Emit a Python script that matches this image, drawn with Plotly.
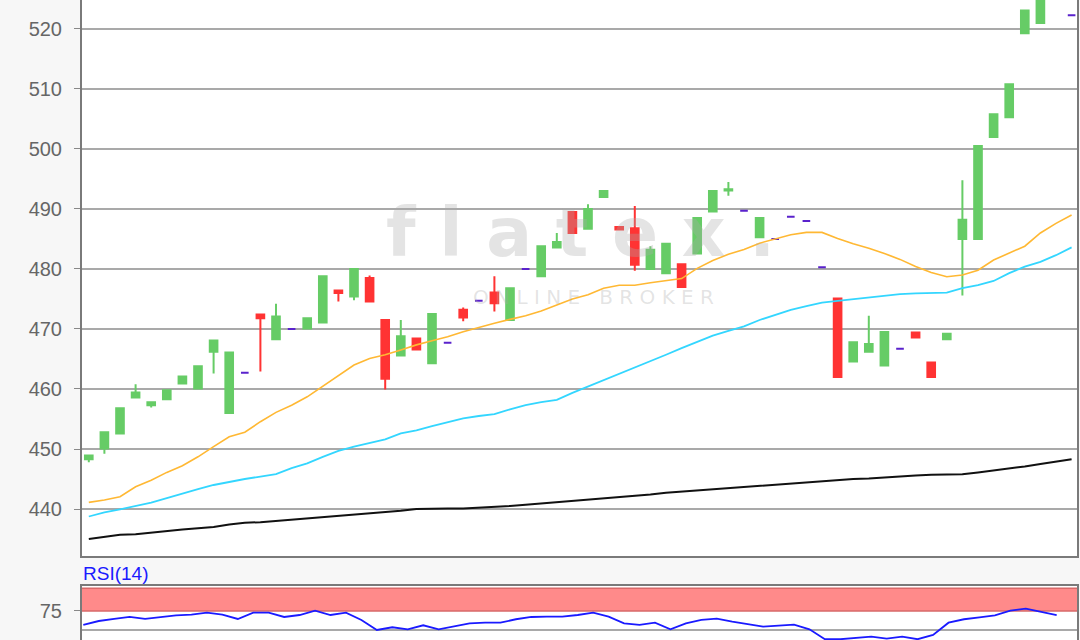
import plotly.graph_objects as go

# ---------------- data ----------------
idx = list(range(64))
opens = [448.3, 450.1, 452.6, 458.6, 457.3, 458.3, 460.9, 460.1, 466.2, 456.0,
         462.7, 472.4, 468.3, 470.0, 470.1, 471.1, 476.4, 475.4, 478.5, 471.5,
         465.6, 468.4, 464.3, 467.7, 473.2, 474.7, 476.1, 471.5, 480.0, 478.8,
         483.6, 489.5, 486.7, 492.0, 487.0, 486.8, 480.0, 479.3, 480.8, 482.6,
         489.6, 493.1, 489.7, 485.3, 485.0, 488.7, 488.0, 480.3, 475.1, 464.6,
         466.2, 463.9, 466.7, 469.4, 464.4, 468.3, 485.0, 485.0, 502.0, 505.3,
         519.3, 521.0, 527.5, 522.3]
highs = [449.0, 452.8, 456.8, 460.8, 457.8, 459.8, 462.1, 463.8, 468.1, 466.1,
         462.7, 472.4, 474.2, 470.0, 471.8, 478.8, 476.4, 480.0, 478.9, 471.5,
         471.5, 468.4, 472.5, 467.7, 473.6, 474.7, 478.8, 476.8, 480.0, 483.8,
         486.0, 489.5, 490.8, 493.0, 487.0, 490.5, 483.8, 484.2, 480.8, 488.5,
         493.0, 494.5, 489.7, 488.5, 485.0, 488.7, 488.0, 480.3, 475.1, 467.8,
         472.2, 469.5, 466.7, 469.4, 464.4, 469.2, 494.8, 500.5, 505.8, 510.8,
         523.1, 527.0, 531.0, 522.3]
lows = [447.8, 449.2, 452.6, 458.6, 456.9, 458.3, 460.9, 460.1, 462.6, 456.0,
        462.7, 462.9, 468.3, 470.0, 470.1, 471.1, 474.6, 474.8, 474.6, 459.9,
        465.6, 466.6, 464.3, 467.7, 471.3, 474.7, 472.9, 471.5, 480.0, 478.8,
        483.6, 486.0, 486.7, 492.0, 486.6, 479.7, 480.0, 479.3, 477.0, 482.6,
        489.6, 492.2, 489.7, 485.3, 485.0, 488.7, 488.0, 480.3, 462.0, 464.6,
        466.2, 463.9, 466.7, 468.6, 462.0, 468.3, 475.6, 485.0, 502.0, 505.3,
        519.3, 521.0, 527.5, 522.3]
closes = [448.9, 452.8, 456.8, 459.4, 457.8, 459.8, 462.1, 463.8, 468.1, 466.1,
          462.7, 471.8, 472.1, 470.0, 471.8, 478.8, 476.0, 480.0, 474.6, 461.7,
          468.8, 466.6, 472.5, 467.7, 471.9, 474.7, 474.3, 476.8, 480.0, 483.8,
          484.5, 486.0, 490.0, 493.0, 486.6, 480.7, 483.2, 484.2, 477.0, 488.5,
          493.0, 493.3, 489.7, 488.5, 485.0, 488.7, 488.0, 480.3, 462.0, 467.8,
          467.5, 469.5, 466.7, 468.6, 462.0, 469.2, 488.2, 500.5, 505.8, 510.8,
          523.1, 527.0, 530.5, 522.3]

ma_orange = [441.1, 441.5, 442.05, 443.7, 444.8, 446.1, 447.2, 448.7, 450.4, 452.05,
             452.8, 454.55, 456.1, 457.3, 458.7, 460.5, 462.3, 464.0, 465.1, 465.7,
             466.5, 467.35, 468.05, 468.7, 469.55, 470.3, 470.95, 471.6, 472.2, 473.0,
             474.0, 475.0, 475.7, 476.8, 477.3, 477.3, 477.7, 478.05, 478.4, 480.1,
             481.4, 482.45, 483.25, 484.3, 485.0, 485.7, 486.1, 486.1, 485.1, 484.2,
             483.45, 482.6, 481.6, 480.4, 479.4, 478.7, 479.0, 479.8, 481.5, 482.7,
             483.8, 486.0, 487.6, 489.0]
ma_cyan = [438.75, 439.45, 439.95, 440.55, 441.05, 441.8, 442.6, 443.3, 444.0, 444.55,
           445.0, 445.4, 445.8, 446.8, 447.6, 448.7, 449.7, 450.4, 451.05, 451.6,
           452.6, 453.1, 453.8, 454.4, 455.1, 455.5, 455.8, 456.6, 457.3, 457.8,
           458.2, 459.35, 460.4, 461.5, 462.5, 463.55, 464.55, 465.7, 466.8, 467.8,
           468.9, 469.7, 470.45, 471.5, 472.3, 473.2, 473.8, 474.4, 474.7, 475.0,
           475.3, 475.55, 475.8, 475.95, 476.05, 476.05, 476.8, 477.3, 478.0, 479.3,
           480.4, 481.2, 482.3, 483.6]
ma_black = [435.0, 435.4, 435.7, 435.8, 436.1, 436.4, 436.6, 436.8, 437.0, 437.4,
            437.7, 437.8, 438.0, 438.2, 438.4, 438.6, 438.8, 439.0, 439.2, 439.4,
            439.7, 440.0, 440.1, 440.1, 440.1, 440.2, 440.3, 440.5, 440.7, 440.9,
            441.1, 441.4, 441.6, 441.8, 442.0, 442.2, 442.4, 442.7, 442.9, 443.1,
            443.3, 443.5, 443.6, 443.8, 444.0, 444.2, 444.4, 444.6, 444.8, 445.0,
            445.1, 445.3, 445.4, 445.6, 445.7, 445.8, 445.8, 446.1, 446.4, 446.8,
            447.1, 447.5, 447.9, 448.3]
rsi = [56.6, 61.8, 64.5, 67.1, 64.5, 66.7, 69.3, 70.1, 72.8, 70.1,
       64.5, 72.8, 72.8, 67.1, 69.7, 75.4, 69.7, 72.8, 63.2, 50.0,
       53.6, 50.9, 56.2, 50.9, 55.3, 58.8, 59.6, 59.6, 64.1, 67.1,
       67.5, 67.5, 69.7, 72.8, 67.5, 58.8, 56.6, 59.6, 50.9, 58.8,
       63.2, 64.9, 60.9, 57.5, 54.3, 55.7, 57.0, 50.9, 37.8, 37.8,
       39.1, 41.2, 38.6, 41.2, 37.8, 43.4, 59.6, 64.1, 66.7, 69.3,
       75.4, 78.0, 73.7, 69.7]
main_ticks = [440, 450, 460, 470, 480, 490, 500, 510, 520]
rsi_ticks = [75]
rsi_title = "RSI(14)"

# ---------------- figure ----------------
W, H = 1080, 640
FONT = "Liberation Sans, Arial, sans-serif"
GREEN, RED, PURPLE = "#66cc66", "#ff3333", "#5a22cc"

reg = [i for i in idx if opens[i] != closes[i]]
doj = [i for i in idx if opens[i] == closes[i]]

fig = go.Figure()
fig.add_trace(go.Scatter(x=idx, y=ma_black, mode="lines",
                         line=dict(color="#111111", width=2), hoverinfo="skip"))
fig.add_trace(go.Scatter(x=idx, y=ma_cyan, mode="lines",
                         line=dict(color="#33d6ff", width=1.8), hoverinfo="skip"))
fig.add_trace(go.Scatter(x=idx, y=ma_orange, mode="lines",
                         line=dict(color="#ffb833", width=1.6), hoverinfo="skip"))
fig.add_trace(go.Candlestick(
    x=reg, open=[opens[i] for i in reg], high=[highs[i] for i in reg],
    low=[lows[i] for i in reg], close=[closes[i] for i in reg],
    increasing=dict(line=dict(color=GREEN, width=2), fillcolor=GREEN),
    decreasing=dict(line=dict(color=RED, width=2), fillcolor=RED),
    whiskerwidth=0))
fig.add_trace(go.Candlestick(
    x=doj, open=[opens[i] for i in doj], high=[highs[i] for i in doj],
    low=[lows[i] for i in doj], close=[closes[i] for i in doj],
    increasing=dict(line=dict(color=PURPLE, width=2), fillcolor=PURPLE),
    decreasing=dict(line=dict(color=PURPLE, width=2), fillcolor=PURPLE),
    whiskerwidth=0))
fig.add_trace(go.Scatter(x=idx, y=rsi, mode="lines", xaxis="x2", yaxis="y2",
                         line=dict(color="#1a1aff", width=1.8), hoverinfo="skip"))

xd = [81 / W, 1078 / W]
main_dom = [1 - 557 / H, 1]
rsi_dom = [0, 1 - 585 / H]

fig.update_layout(
    width=W, height=H, margin=dict(l=0, r=0, t=0, b=0),
    paper_bgcolor="#f7f7f7", plot_bgcolor="#ffffff",
    showlegend=False, boxgap=0.3,
    font=dict(family=FONT, size=20, color="#666666"),
    xaxis=dict(domain=xd, range=[-0.5, 63.41], showticklabels=False, showgrid=False,
               zeroline=False, rangeslider=dict(visible=False), fixedrange=True),
    yaxis=dict(domain=main_dom, range=[432.0, 524.83], tickvals=main_ticks,
               showgrid=True, gridcolor="#a9a9a9", gridwidth=2, zeroline=False,
               ticks="outside", ticklen=6, tickcolor="#888888", tickwidth=1,
               ticklabelstandoff=8, automargin=False,
               tickfont=dict(family=FONT, size=20, color="#666666")),
    xaxis2=dict(domain=xd, range=[-0.149, 64.38], anchor="y2", showticklabels=False,
                showgrid=False, zeroline=False),
    yaxis2=dict(domain=rsi_dom, range=[36.8, 109.2], anchor="x2", tickvals=rsi_ticks,
                showgrid=False, zeroline=False, ticks="outside", ticklen=6,
                tickcolor="#888888", tickwidth=1, ticklabelstandoff=8, automargin=False,
                tickfont=dict(family=FONT, size=20, color="#666666")),
)

shapes = [
    # overbought band
    dict(type="rect", xref="x2 domain", yref="y2", x0=0, x1=1, y0=75, y1=105,
         fillcolor="#ff8a8a", line=dict(color="#d86a6a", width=1.5), layer="below"),
    # 50 line in RSI panel
    dict(type="line", xref="x2 domain", yref="y2", x0=0, x1=1, y0=50, y1=50,
         line=dict(color="#a9a9a9", width=2), layer="below"),
    # main panel border (top edge outside the picture)
    dict(type="rect", xref="x domain", yref="y domain", x0=0, x1=1, y0=0, y1=1.02,
         line=dict(color="#7a7a7a", width=2)),
    # rsi panel border (bottom edge outside the picture)
    dict(type="rect", xref="x2 domain", yref="y2 domain", x0=0, x1=1, y0=-0.3, y1=1,
         line=dict(color="#7a7a7a", width=2)),
]
fig.update_layout(shapes=shapes)

fig.add_annotation(text=rsi_title, xref="paper", yref="paper", x=81 / W, y=1 - 573 / H,
                   xanchor="left", yanchor="middle", showarrow=False,
                   font=dict(family=FONT, size=19, color="#1a1aff"))
# watermark
fig.add_annotation(text="<b>f l a t e x .</b>", xref="paper", yref="paper",
                   x=580 / W, y=1 - 232 / H,
                   xanchor="center", yanchor="middle", showarrow=False,
                   font=dict(family="DejaVu Sans", size=68, color="rgba(170,170,170,0.32)"))
fig.add_annotation(text="O N L I N E   B R O K E R", xref="paper", yref="paper",
                   x=593 / W, y=1 - 297 / H, xanchor="center", yanchor="middle",
                   showarrow=False,
                   font=dict(family="DejaVu Sans", size=20, color="rgba(170,170,170,0.32)"))

fig.write_html("out.html", config={"displayModeBar": False},
               post_script="document.body.style.margin='0';document.body.style.overflow='hidden';")
